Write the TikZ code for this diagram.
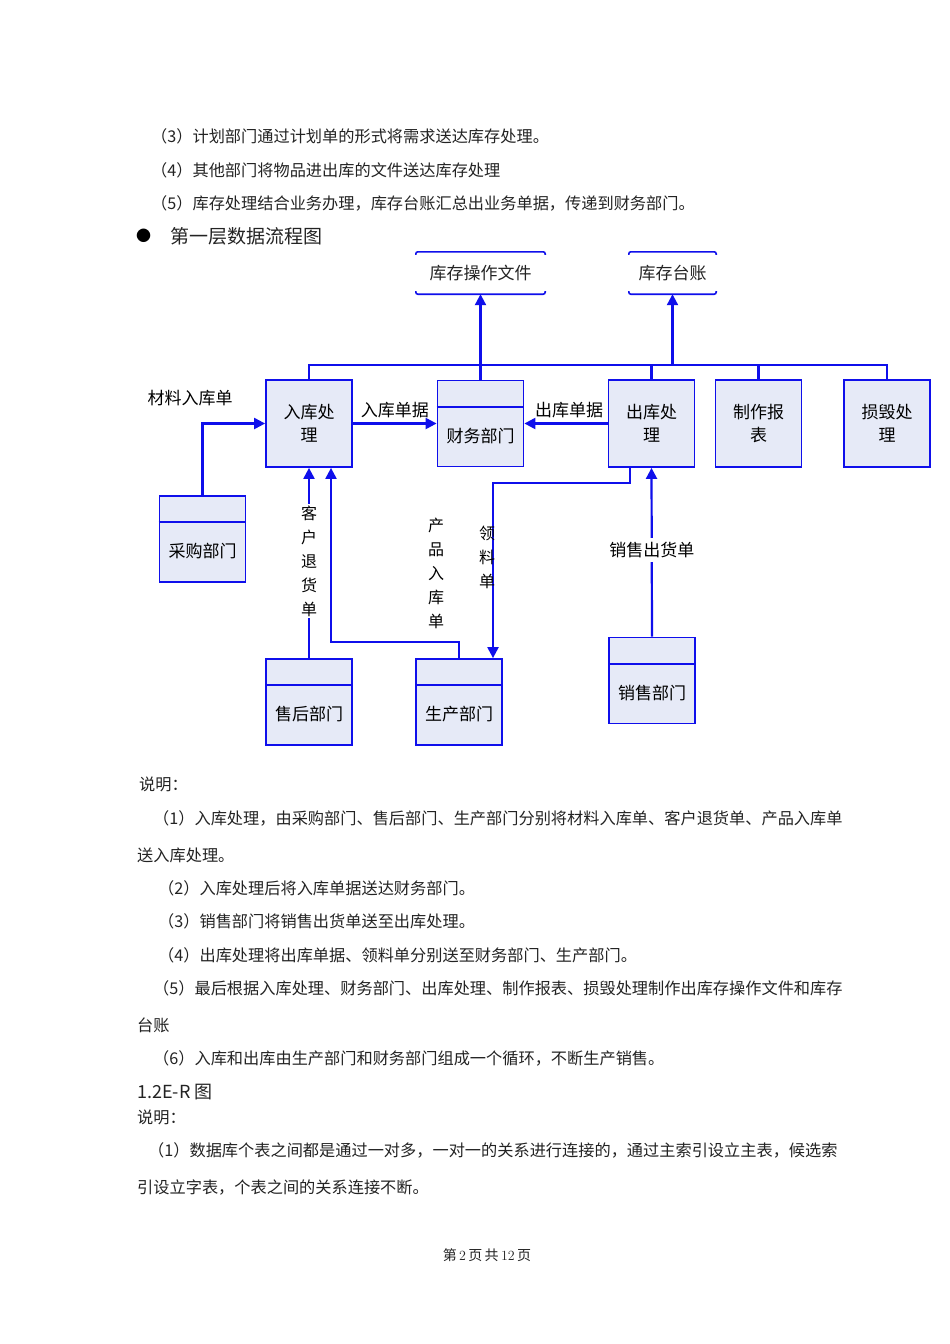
\documentclass[tikz,border=0pt]{standalone}
\usepackage{fontspec}
\newfontfamily\cjk{Noto Sans CJK SC}
\usetikzlibrary{arrows.meta, calc}

\definecolor{flowblue}{RGB}{15,15,235}
\definecolor{boxfill}{RGB}{230,234,247}
\definecolor{bodygray}{RGB}{35,35,35}

\tikzset{
    flow/.style = {draw = flowblue, line width = 2.2pt, -{Triangle[length = 11pt, width = 11pt]}},
    link/.style = {draw = flowblue, line width = 2.2pt},
    storeline/.style = {draw = flowblue, line width = 1.6pt, rounded corners = 2pt},
    divline/.style = {draw = flowblue, line width = 1.8pt},
    procbox/.style = {draw = flowblue, line width = 1.8pt, fill = boxfill, minimum width = 86pt, minimum height = 87pt, inner sep = 0pt, align = center, font = \cjk\fontsize{17}{23}\selectfont},
    deptbox/.style = {draw = flowblue, line width = 1.8pt, fill = boxfill, minimum width = 86pt, minimum height = 86pt, inner sep = 0pt},
    deptlbl/.style = {inner sep = 0pt, font = \cjk\fontsize{17}{17}\selectfont},
    storebox/.style = {minimum width = 129pt, minimum height = 42pt, inner sep = 0pt, text = bodygray, font = \cjk\fontsize{17}{17}\selectfont},
    flowlbl/.style = {inner sep = 1pt, font = \cjk\fontsize{17}{17}\selectfont},
    vlbl/.style = {inner sep = 2pt, align = center, font = \cjk\fontsize{16}{24}\selectfont},
    bodytxt/.style = {anchor = west, inner sep = 0pt, text = bodygray, font = \cjk\fontsize{16.2}{16.2}\selectfont}
}

\begin{document}
\begin{tikzpicture}[x = {(1pt, 0pt)}, y = {(0pt, -1pt)}]
    \fill[white] (0, 0) rectangle (950, 1344);
    \useasboundingbox (0, 0) rectangle (950, 1344);

    % text above the chart
    \foreach \px/\py/\txt in {151/136/{（3）计划部门通过计划单的形式将需求送达库存处理。}, 151/170/{（4）其他部门将物品进出库的文件送达库存处理}, 151/203/{（5）库存处理结合业务办理，库存台账汇总出业务单据，传递到财务部门。}}
        \node[bodytxt] (top-\py) at (\px, \py) {\txt};
    \node[bodytxt, font = \cjk\fontsize{15}{15}\selectfont, text = black] (dot) at (136, 236) {●};
    \node[bodytxt, font = \cjk\fontsize{19}{19}\selectfont] (chart-title) at (170, 236) {第一层数据流程图};

    % stores
    \node[storebox] (kcwj) at (480.5, 273) {库存操作文件};
    \node[storebox, minimum width = 87pt] (kctz) at (672.5, 273) {库存台账};
    \foreach \st in {kcwj, kctz} {
        \draw[storeline] ([yshift = -3pt]\st.north west) -- (\st.north west) -- (\st.north east) -- ([yshift = -3pt]\st.north east);
        \draw[storeline] ([yshift = 3pt]\st.south west) -- (\st.south west) -- (\st.south east) -- ([yshift = 3pt]\st.south east);
    }

    % processes
    \foreach \nm/\px/\txt in {ruku/309/{入库处\\理}, chuku/651.5/{出库处\\理}, zhizuo/758.5/{制作报\\表}, sunhui/887/{损毁处\\理}}
        \node[procbox] (\nm) at (\px, 423.5) {\txt};

    % departments
    \foreach \nm/\px/\py/\txt in {caiwu/480.5/423.5/财务部门, caigou/202.5/539/采购部门, shouhou/309/702/售后部门, shengchan/459/702/生产部门, xiaoshou/652/680.5/销售部门} {
        \node[deptbox] (\nm) at (\px, \py) {};
        \draw[divline] ([yshift = -27pt]\nm.north west) -- ([yshift = -27pt]\nm.north east);
        \node[deptlbl] (\nm-t) at ([yshift = -12.5pt]\nm.center) {\txt};
    }

    % bus to the stores
    \coordinate (bus) at (0, 365);
    \draw[link] (ruku.north) |- (sunhui.north |- bus) -- (sunhui.north);
    \draw[link] (chuku.north) -- (chuku.north |- bus);
    \draw[link] (zhizuo.north) -- (zhizuo.north |- bus);
    \draw[flow] (caiwu.north) -- (kcwj.south);
    \draw[flow] (kctz.south |- bus) -- (kctz.south);

    % flows
    \draw[flow] (caigou.north) |- (ruku.west);
    \node[flowlbl] (lbl-cailiao) at (190, 398) {材料入库单};
    \draw[flow] (ruku.east) -- (caiwu.west) node[flowlbl, midway, above = 3pt] (lbl-rkdj) {入库单据};
    \draw[flow] (chuku.west) -- (caiwu.east) node[flowlbl, midway, above = 3pt, xshift = 3pt] (lbl-ckdj) {出库单据};
    \draw[flow] (shouhou.north) -- (ruku.south) node[vlbl, midway, fill = white, yshift = 2pt] (lbl-kh) {客\\户\\退\\货\\单};
    \draw[flow] (shengchan.north) -- ++(0, -16) -| ([xshift = 22pt]ruku.south);
    \draw[flow] ([xshift = -21.5pt]chuku.south) -- ++(0, 15) -| ([xshift = 34pt]shengchan.north);
    \draw[flow] (xiaoshou.north) -- (chuku.south) node[flowlbl, midway, fill = white, inner sep = 4pt, yshift = 2pt] (lbl-xs) {销售出货单};
    \node[vlbl] (lbl-cp) at (436, 573.5) {产\\品\\入\\库\\单};
    \node[vlbl] (lbl-ll) at (487, 557) {领\\料\\单};

    % text below the chart
    \foreach \px/\py/\txt in {139/784/{说明：}, 153/818/{（1）入库处理，由采购部门、售后部门、生产部门分别将材料入库单、客户退货单、产品入库单}, 137/855/{送入库处理。}, 158/888/{（2）入库处理后将入库单据送达财务部门。}, 158/921/{（3）销售部门将销售出货单送至出库处理。}, 158/955/{（4）出库处理将出库单据、领料单分别送至财务部门、生产部门。}, 153/988/{（5）最后根据入库处理、财务部门、出库处理、制作报表、损毁处理制作出库存操作文件和库存}, 137/1025/{台账}, 153/1058/{（6）入库和出库由生产部门和财务部门组成一个循环，不断生产销售。}, 137/1117/{说明：}, 148/1150/{（1）数据库个表之间都是通过一对多，一对一的关系进行连接的，通过主索引设立主表，候选索}, 137/1187/{引设立字表，个表之间的关系连接不断。}}
        \node[bodytxt] (bot-\py) at (\px, \py) {\txt};
    \node[bodytxt, font = \cjk\fontsize{18}{18}\selectfont] (er-title) at (137, 1092) {1.2E-R 图};

    \node[text = bodygray, font = \fontsize{14}{14}\selectfont] (footer) at (487, 1255) {{\cjk 第}\,2\,{\cjk 页\,共}\,12\,{\cjk 页}};
\end{tikzpicture}
\end{document}
